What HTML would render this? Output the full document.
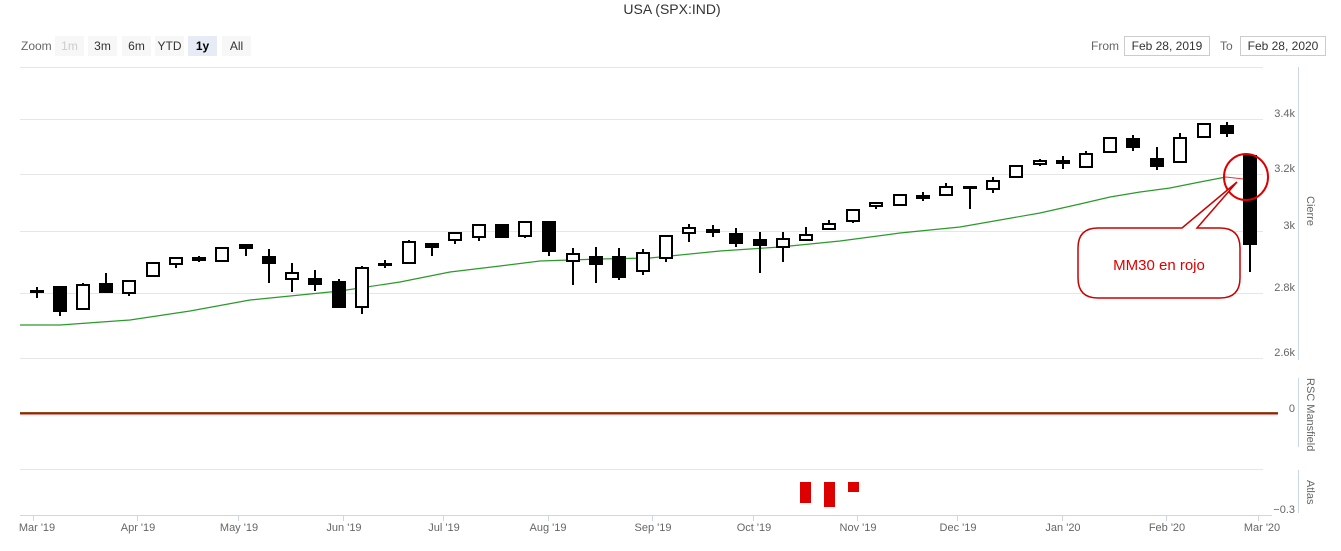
<!DOCTYPE html>
<html><head><meta charset="utf-8"><style>
html,body{margin:0;padding:0;background:#fff;width:1341px;height:551px;overflow:hidden;font-family:"Liberation Sans",sans-serif}
svg{display:block}
</style></head><body>
<svg id="s" width="1341" height="551" xmlns="http://www.w3.org/2000/svg" font-family="Liberation Sans, sans-serif">
<text x="672" y="14" font-size="14" fill="#333" text-anchor="middle">USA (SPX:IND)</text>
<text x="21" y="50" font-size="12" fill="#666">Zoom</text>
<rect x="55" y="36" width="29" height="20" fill="#f7f7f7"/><text x="69.5" y="50" font-size="12" fill="#ccc" text-anchor="middle">1m</text>
<rect x="88" y="36" width="29" height="20" fill="#f7f7f7"/><text x="102.5" y="50" font-size="12" fill="#333" text-anchor="middle">3m</text>
<rect x="122" y="36" width="29" height="20" fill="#f7f7f7"/><text x="136.5" y="50" font-size="12" fill="#333" text-anchor="middle">6m</text>
<rect x="155" y="36" width="29" height="20" fill="#f7f7f7"/><text x="169.5" y="50" font-size="12" fill="#333" text-anchor="middle">YTD</text>
<rect x="188" y="36" width="29" height="20" fill="#e6ebf5"/><text x="202.5" y="50" font-size="12" fill="#000" font-weight="bold" text-anchor="middle">1y</text>
<rect x="222" y="36" width="29" height="20" fill="#f7f7f7"/><text x="236.5" y="50" font-size="12" fill="#333" text-anchor="middle">All</text>
<text x="1091" y="50" font-size="12" fill="#666">From</text>
<rect x="1124.5" y="36.5" width="85" height="19" fill="#fff" stroke="#ccc"/><text x="1167" y="50" font-size="12" fill="#333" text-anchor="middle">Feb 28, 2019</text>
<text x="1220" y="50" font-size="12" fill="#666">To</text>
<rect x="1240.5" y="36.5" width="85" height="19" fill="#fff" stroke="#ccc"/><text x="1283" y="50" font-size="12" fill="#333" text-anchor="middle">Feb 28, 2020</text>
<g stroke="#e6e6e6" stroke-width="1">
<line x1="20" y1="67.5" x2="1263" y2="67.5"/><line x1="20" y1="119.5" x2="1263" y2="119.5"/><line x1="20" y1="174.5" x2="1263" y2="174.5"/><line x1="20" y1="231.5" x2="1263" y2="231.5"/><line x1="20" y1="293.5" x2="1263" y2="293.5"/><line x1="20" y1="358.5" x2="1263" y2="358.5"/><line x1="20" y1="469.5" x2="1263" y2="469.5"/>
</g>
<line x1="20" y1="515.5" x2="1272" y2="515.5" stroke="#ccd6eb"/>
<g stroke="#ccd6eb"><line x1="1298.5" y1="67" x2="1298.5" y2="360"/><line x1="1298.5" y1="378" x2="1298.5" y2="447"/><line x1="1298.5" y1="470" x2="1298.5" y2="513"/></g>
<g font-size="11" fill="#666" text-anchor="end">
<text x="1295" y="117">3.4k</text><text x="1295" y="172">3.2k</text><text x="1295" y="229">3k</text><text x="1295" y="291">2.8k</text><text x="1295" y="356">2.6k</text><text x="1295" y="412">0</text><text x="1295" y="513">−0.3</text>
</g>
<g font-size="11" fill="#666">
<text transform="translate(1307,196) rotate(90)">Cierre</text>
<text transform="translate(1307,378) rotate(90)">RSC Mansfield</text>
<text transform="translate(1307,480) rotate(90)">Atlas</text>
</g>
<g font-size="11" fill="#666" text-anchor="middle" id="xl">
<text x="37" y="531">Mar '19</text><text x="138" y="531">Apr '19</text><text x="239" y="531">May '19</text><text x="344" y="531">Jun '19</text><text x="444" y="531">Jul '19</text><text x="548" y="531">Aug '19</text><text x="653" y="531">Sep '19</text><text x="754" y="531">Oct '19</text><text x="858" y="531">Nov '19</text><text x="958" y="531">Dec '19</text><text x="1063" y="531">Jan '20</text><text x="1167" y="531">Feb '20</text><text x="1262" y="531">Mar '20</text>
</g>
<g stroke="#ccd6eb"><line x1="33.5" y1="515" x2="33.5" y2="521"/><line x1="137.5" y1="515" x2="137.5" y2="521"/><line x1="238.5" y1="515" x2="238.5" y2="521"/><line x1="343.5" y1="515" x2="343.5" y2="521"/><line x1="443.5" y1="515" x2="443.5" y2="521"/><line x1="548.5" y1="515" x2="548.5" y2="521"/><line x1="652.5" y1="515" x2="652.5" y2="521"/><line x1="753.5" y1="515" x2="753.5" y2="521"/><line x1="857.5" y1="515" x2="857.5" y2="521"/><line x1="957.5" y1="515" x2="957.5" y2="521"/><line x1="1062.5" y1="515" x2="1062.5" y2="521"/><line x1="1166.5" y1="515" x2="1166.5" y2="521"/><line x1="1258.5" y1="515" x2="1258.5" y2="521"/></g>
<line x1="20" y1="412.5" x2="1278" y2="412.5" stroke="#3a9a3a" stroke-width="1"/>
<line x1="20" y1="413.5" x2="1278" y2="413.5" stroke="#d00" stroke-width="2"/>
<rect x="800" y="482" width="11" height="21" fill="#d00"/>
<rect x="824" y="482" width="11" height="25" fill="#d00"/>
<rect x="848" y="482" width="11" height="10" fill="#d00"/>
<polyline fill="none" stroke="#2a9a2a" stroke-width="1.2" points="20,325 60,325 130,320 190,311 250,300 340,291 400,282 450,272 500,266 540,261 600,259 650,258 720,251 780,247 840,241 900,233 960,227 1000,220 1040,213 1080,204 1110,197 1140,192 1170,188 1200,182 1226,177"/>
<line x1="1226" y1="177" x2="1252" y2="180" stroke="#e33" stroke-width="1"/>
<g id="c" stroke="#000" stroke-width="2"></g>
<ellipse cx="1246" cy="177" rx="22" ry="23" fill="none" stroke="#d00" stroke-width="2"/>
<path d="M1098,228 L1182,228 L1237,182 L1197,228 L1220,228 Q1240,228 1240,248 L1240,278 Q1240,298 1220,298 L1098,298 Q1078,298 1078,278 L1078,248 Q1078,228 1098,228 Z" fill="#fff" stroke="#c00" stroke-width="1.5"/>
<text x="1159" y="270" font-size="15" fill="#d00" text-anchor="middle">MM30 en rojo</text>
</svg>
<script>
var d=[[37,0,291,292,287,298],[60,1,287,311,287,316],[83,0,285,309,283,309],[106,1,284,292,273,292],[129,0,281,293,281,296],[153,0,263,276,263,276],[176,0,258,264,258,268],[199,1,258,260,256,262],[222,0,248,261,248,261],[246,1,245,248,245,256],[269,1,257,263,249,283],[292,0,273,279,263,292],[315,1,279,284,270,291],[339,1,282,307,279,307],[362,0,268,307,266,314],[385,1,264,265,260,268],[409,0,242,263,240,263],[432,1,244,247,244,256],[455,0,233,240,233,244],[479,0,225,237,225,241],[502,1,225,237,225,237],[525,0,222,236,222,238],[549,1,222,251,222,256],[573,0,254,261,248,285],[596,1,257,264,247,283],[619,1,257,277,248,280],[643,0,253,271,249,275],[666,0,236,258,235,262],[689,0,228,233,224,242],[713,1,230,232,225,237],[736,1,234,243,228,247],[760,1,240,245,232,273],[783,0,239,247,232,262],[806,0,235,240,227,240],[829,0,224,229,220,229],[853,0,210,221,210,223],[876,0,203,206,203,209],[900,0,195,205,195,205],[923,1,196,198,192,201],[946,0,187,195,183,195],[970,1,187,188,187,209],[993,0,181,189,177,193],[1016,0,166,177,166,177],[1040,0,161,164,159,166],[1063,1,161,163,156,169],[1086,0,154,167,151,167],[1110,0,138,152,138,152],[1133,1,139,147,135,151],[1157,1,159,166,147,170],[1180,0,138,162,133,162],[1204,0,124,137,124,137],[1227,1,126,133,122,137],[1250,1,156,244,156,272]];
var g=document.getElementById('c'),h='';
d.forEach(function(c){var x=c[0];h+='<line x1="'+x+'" y1="'+c[4]+'" x2="'+x+'" y2="'+c[5]+'"/>';
var w=12,hh=Math.max(c[3]-c[2],1);h+='<rect x="'+(x-w/2)+'" y="'+c[2]+'" width="'+w+'" height="'+hh+'" fill="'+(c[1]?'#000':'#fff')+'"/>';});
g.innerHTML=h;
</script>
</body></html>
